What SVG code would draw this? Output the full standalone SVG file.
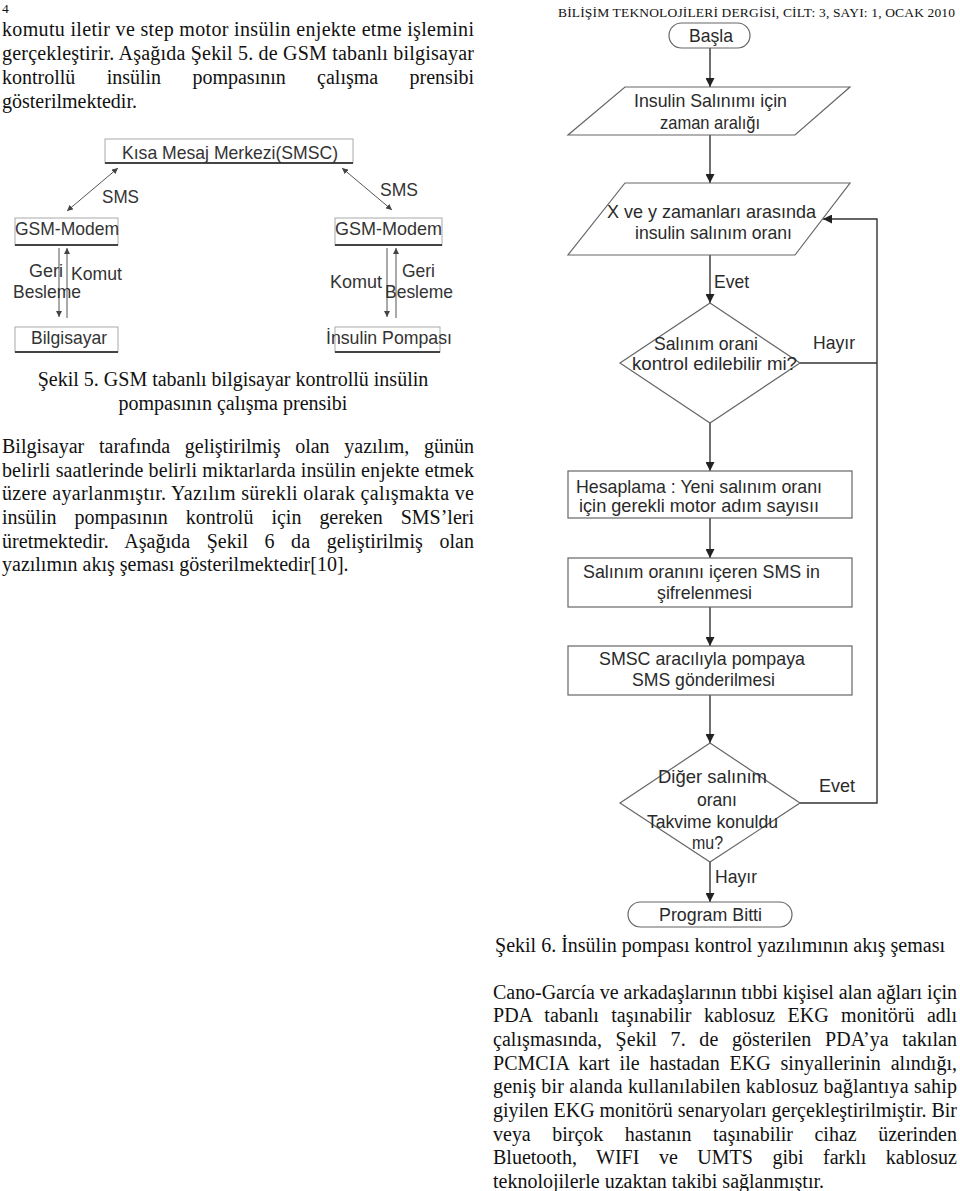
<svg xmlns="http://www.w3.org/2000/svg" width="960" height="1191" viewBox="0 0 960 1191">
<style>
.body{font-family:"Liberation Serif","Times New Roman",serif;font-size:20px;fill:#111}
.hdr{font-family:"Liberation Serif","Times New Roman",serif;font-size:13.5px;fill:#111}
.f5{font-family:"Liberation Sans",Arial,sans-serif;font-size:18.5px;fill:#333}
.f6{font-family:"Liberation Sans",Arial,sans-serif;font-size:19px;fill:#2a2a2a}
.box5{fill:#fff;stroke:#aaa;stroke-width:1}
.bot5{stroke:#444;stroke-width:2}
.shape{fill:#fff;stroke:#666;stroke-width:1.2}
.edge{fill:none;stroke:#333;stroke-width:1.4}
.edge5{fill:none;stroke:#555;stroke-width:1}
</style>
<defs>
<marker id="ah" markerUnits="userSpaceOnUse" markerWidth="10" markerHeight="9" refX="9" refY="4.5" orient="auto">
<path d="M0,0 L9,4.5 L0,9 z" fill="#222"/>
</marker>
<marker id="ah5" markerUnits="userSpaceOnUse" markerWidth="7" markerHeight="6" refX="6" refY="3" orient="auto-start-reverse">
<path d="M0,0 L6,3 L0,6 z" fill="#444"/>
</marker>
</defs>
<rect width="960" height="1191" fill="#fff"/>

<g id="page-text">
<text class="hdr" x="2" y="13">4</text>
<text class="hdr" x="558" y="17" textLength="397" lengthAdjust="spacing">BİLİŞİM TEKNOLOJİLERİ DERGİSİ, CİLT: 3, SAYI: 1, OCAK 2010</text>

<text class="body" x="2" y="36" textLength="472" lengthAdjust="spacing">komutu iletir ve step motor insülin enjekte etme işlemini</text>
<text class="body" x="2" y="60" textLength="472" lengthAdjust="spacing">gerçekleştirir. Aşağıda Şekil 5. de GSM tabanlı bilgisayar</text>
<text class="body" x="2" y="84" word-spacing="26.3" textLength="472" lengthAdjust="spacing">kontrollü insülin pompasının çalışma prensibi</text>
<text class="body" x="2" y="108">gösterilmektedir.</text>

<text class="body" x="233" y="386" text-anchor="middle">Şekil 5. GSM tabanlı bilgisayar kontrollü insülin</text>
<text class="body" x="233" y="410" text-anchor="middle">pompasının çalışma prensibi</text>

<text class="body" x="2" y="453" word-spacing="9.7" textLength="472" lengthAdjust="spacing">Bilgisayar tarafında geliştirilmiş olan yazılım, günün</text>
<text class="body" x="2" y="477" textLength="472" lengthAdjust="spacing">belirli saatlerinde belirli miktarlarda insülin enjekte etmek</text>
<text class="body" x="2" y="500" textLength="472" lengthAdjust="spacing">üzere ayarlanmıştır. Yazılım sürekli olarak çalışmakta ve</text>
<text class="body" x="2" y="524" word-spacing="13" textLength="472" lengthAdjust="spacing">insülin pompasının kontrolü için gereken SMS’leri</text>
<text class="body" x="2" y="548" word-spacing="11.5" textLength="472" lengthAdjust="spacing">üretmektedir. Aşağıda Şekil 6 da geliştirilmiş olan</text>
<text class="body" x="2" y="571">yazılımın akış şeması gösterilmektedir[10].</text>

<text class="body" x="720" y="952" text-anchor="middle">Şekil 6. İnsülin pompası kontrol yazılımının akış şeması</text>

<text class="body" x="493" y="999" textLength="464" lengthAdjust="spacing">Cano-García ve arkadaşlarının tıbbi kişisel alan ağları için</text>
<text class="body" x="493" y="1022" word-spacing="7.3" textLength="464" lengthAdjust="spacing">PDA tabanlı taşınabilir kablosuz EKG monitörü adlı</text>
<text class="body" x="493" y="1046" word-spacing="8.6" textLength="464" lengthAdjust="spacing">çalışmasında, Şekil 7. de gösterilen PDA’ya takılan</text>
<text class="body" x="493" y="1070" word-spacing="4.8" textLength="464" lengthAdjust="spacing">PCMCIA kart ile hastadan EKG sinyallerinin alındığı,</text>
<text class="body" x="493" y="1093" textLength="464" lengthAdjust="spacing">geniş bir alanda kullanılabilen kablosuz bağlantıya sahip</text>
<text class="body" x="493" y="1117" textLength="464" lengthAdjust="spacing">giyilen EKG monitörü senaryoları gerçekleştirilmiştir. Bir</text>
<text class="body" x="493" y="1141" word-spacing="16.5" textLength="464" lengthAdjust="spacing">veya birçok hastanın taşınabilir cihaz üzerinden</text>
<text class="body" x="493" y="1164" word-spacing="14.5" textLength="464" lengthAdjust="spacing">Bluetooth, WIFI ve UMTS gibi farklı kablosuz</text>
<text class="body" x="493" y="1188">teknolojilerle uzaktan takibi sağlanmıştır.</text>
</g>

<!-- Figure 5 -->
<g id="fig5-connectors">
<line class="edge5" x1="118" y1="168" x2="67" y2="211" marker-start="url(#ah5)" marker-end="url(#ah5)"/>
<line class="edge5" x1="342" y1="168" x2="392" y2="210" marker-start="url(#ah5)" marker-end="url(#ah5)"/>
<line class="edge5" x1="59" y1="248" x2="59" y2="317" marker-end="url(#ah5)"/>
<line class="edge5" x1="67" y1="318" x2="67" y2="248" marker-end="url(#ah5)"/>
<line class="edge5" x1="387" y1="248" x2="387" y2="317" marker-end="url(#ah5)"/>
<line class="edge5" x1="396" y1="318" x2="396" y2="248" marker-end="url(#ah5)"/>
<text class="f5" x="102" y="203" textLength="37" lengthAdjust="spacingAndGlyphs">SMS</text>
<text class="f5" x="380" y="196" textLength="38" lengthAdjust="spacingAndGlyphs">SMS</text>
<text class="f5" x="29" y="277" textLength="34" lengthAdjust="spacingAndGlyphs">Geri</text>
<text class="f5" x="13" y="298" textLength="68" lengthAdjust="spacingAndGlyphs">Besleme</text>
<text class="f5" x="71" y="280" textLength="51" lengthAdjust="spacingAndGlyphs">Komut</text>
<text class="f5" x="330" y="288" textLength="52" lengthAdjust="spacingAndGlyphs">Komut</text>
<text class="f5" x="402" y="277" textLength="33" lengthAdjust="spacingAndGlyphs">Geri</text>
<text class="f5" x="385" y="298" textLength="68" lengthAdjust="spacingAndGlyphs">Besleme</text>
</g>
<g id="smsc">
<rect class="box5" x="105" y="139" width="248" height="24"/>
<line class="bot5" x1="105" y1="163" x2="353" y2="163"/>
<text class="f5" x="122" y="159" textLength="216" lengthAdjust="spacingAndGlyphs">Kısa Mesaj Merkezi(SMSC)</text>
</g>
<g id="gsm-left">
<rect class="box5" x="15" y="218" width="103" height="27"/>
<line class="bot5" x1="15" y1="245" x2="118" y2="245"/>
<text class="f5" x="15" y="235" textLength="104" lengthAdjust="spacingAndGlyphs">GSM-Modem</text>
</g>
<g id="gsm-right">
<rect class="box5" x="335" y="218" width="107" height="27"/>
<line class="bot5" x1="335" y1="245" x2="442" y2="245"/>
<text class="f5" x="335" y="235" textLength="107" lengthAdjust="spacingAndGlyphs">GSM-Modem</text>
</g>
<g id="bilgisayar">
<rect class="box5" x="15" y="327" width="103" height="25"/>
<line class="bot5" x1="15" y1="352" x2="118" y2="352"/>
<text class="f5" x="31" y="344" textLength="76" lengthAdjust="spacingAndGlyphs">Bilgisayar</text>
</g>
<g id="pompa">
<rect class="box5" x="335" y="327" width="105" height="25"/>
<line class="bot5" x1="335" y1="352" x2="440" y2="352"/>
<text class="f5" x="326" y="344" textLength="126" lengthAdjust="spacingAndGlyphs">İnsulin Pompası</text>
</g>

<!-- Figure 6 -->
<g id="fig6-connectors">
<line class="edge" x1="710" y1="48" x2="710" y2="87" marker-end="url(#ah)"/>
<line class="edge" x1="710" y1="135" x2="710" y2="183" marker-end="url(#ah)"/>
<line class="edge" x1="710" y1="255" x2="710" y2="303" marker-end="url(#ah)"/>
<line class="edge" x1="710" y1="423" x2="710" y2="471" marker-end="url(#ah)"/>
<line class="edge" x1="800" y1="363" x2="877" y2="363"/>
<line class="edge" x1="710" y1="518" x2="710" y2="558" marker-end="url(#ah)"/>
<line class="edge" x1="710" y1="607" x2="710" y2="646" marker-end="url(#ah)"/>
<line class="edge" x1="710" y1="695" x2="710" y2="743" marker-end="url(#ah)"/>
<polyline class="edge" points="800,803 877,803 877,219 823,219" marker-end="url(#ah)"/>
<line class="edge" x1="710" y1="862" x2="710" y2="902" marker-end="url(#ah)"/>
<text class="f6" x="714" y="288" textLength="35" lengthAdjust="spacingAndGlyphs">Evet</text>
<text class="f6" x="813" y="349" textLength="42" lengthAdjust="spacingAndGlyphs">Hayır</text>
<text class="f6" x="819" y="792" textLength="36" lengthAdjust="spacingAndGlyphs">Evet</text>
<text class="f6" x="715" y="883" textLength="42" lengthAdjust="spacingAndGlyphs">Hayır</text>
</g>
<g id="basla">
<rect class="shape" x="669" y="23" width="81" height="25" rx="12.5"/>
<text class="f6" x="689" y="42" textLength="44" lengthAdjust="spacingAndGlyphs">Başla</text>
</g>
<g id="zaman-araligi">
<polygon class="shape" points="625,87 850,87 795,135 568,135"/>
<text class="f6" x="634" y="107" textLength="153" lengthAdjust="spacingAndGlyphs">Insulin Salınımı için</text>
<text class="f6" x="660" y="129" textLength="100" lengthAdjust="spacingAndGlyphs">zaman aralığı</text>
</g>
<g id="salinim-orani">
<polygon class="shape" points="625,183 850,183 795,255 568,255"/>
<text class="f6" x="607" y="218" textLength="209" lengthAdjust="spacingAndGlyphs">X ve y zamanları arasında</text>
<text class="f6" x="635" y="239" textLength="157" lengthAdjust="spacingAndGlyphs">insulin salınım oranı</text>
</g>
<g id="kontrol-karar">
<polygon class="shape" points="710,303 800,363 710,423 620,363"/>
<text class="f6" x="654" y="350" textLength="104" lengthAdjust="spacingAndGlyphs">Salınım orani</text>
<text class="f6" x="632" y="370" textLength="165" lengthAdjust="spacingAndGlyphs">kontrol edilebilir mi?</text>
</g>
<g id="hesaplama">
<rect class="shape" x="568" y="471" width="284" height="47"/>
<text class="f6" x="576" y="493" textLength="246" lengthAdjust="spacingAndGlyphs">Hesaplama : Yeni salınım oranı</text>
<text class="f6" x="579" y="512" textLength="240" lengthAdjust="spacingAndGlyphs">için gerekli motor adım sayısıı</text>
</g>
<g id="sifreleme">
<rect class="shape" x="568" y="558" width="284" height="49"/>
<text class="f6" x="583" y="578" textLength="237" lengthAdjust="spacingAndGlyphs">Salınım oranını içeren SMS in</text>
<text class="f6" x="657" y="599" textLength="95" lengthAdjust="spacingAndGlyphs">şifrelenmesi</text>
</g>
<g id="gonderme">
<rect class="shape" x="568" y="646" width="284" height="49"/>
<text class="f6" x="599" y="665" textLength="206" lengthAdjust="spacingAndGlyphs">SMSC aracılıyla pompaya</text>
<text class="f6" x="632" y="686" textLength="143" lengthAdjust="spacingAndGlyphs">SMS gönderilmesi</text>
</g>
<g id="takvim-karar">
<polygon class="shape" points="710,743 800,803 710,862 620,803"/>
<text class="f6" x="658" y="783" textLength="109" lengthAdjust="spacingAndGlyphs">Diğer salınım</text>
<text class="f6" x="697" y="806" textLength="40" lengthAdjust="spacingAndGlyphs">oranı</text>
<text class="f6" x="647" y="828" textLength="131" lengthAdjust="spacingAndGlyphs">Takvime konuldu</text>
<text class="f6" x="692" y="849" textLength="31" lengthAdjust="spacingAndGlyphs">mu?</text>
</g>
<g id="program-bitti">
<rect class="shape" x="628" y="902" width="164" height="25" rx="12.5"/>
<text class="f6" x="659" y="921" textLength="103" lengthAdjust="spacingAndGlyphs">Program Bitti</text>
</g>
</svg>
